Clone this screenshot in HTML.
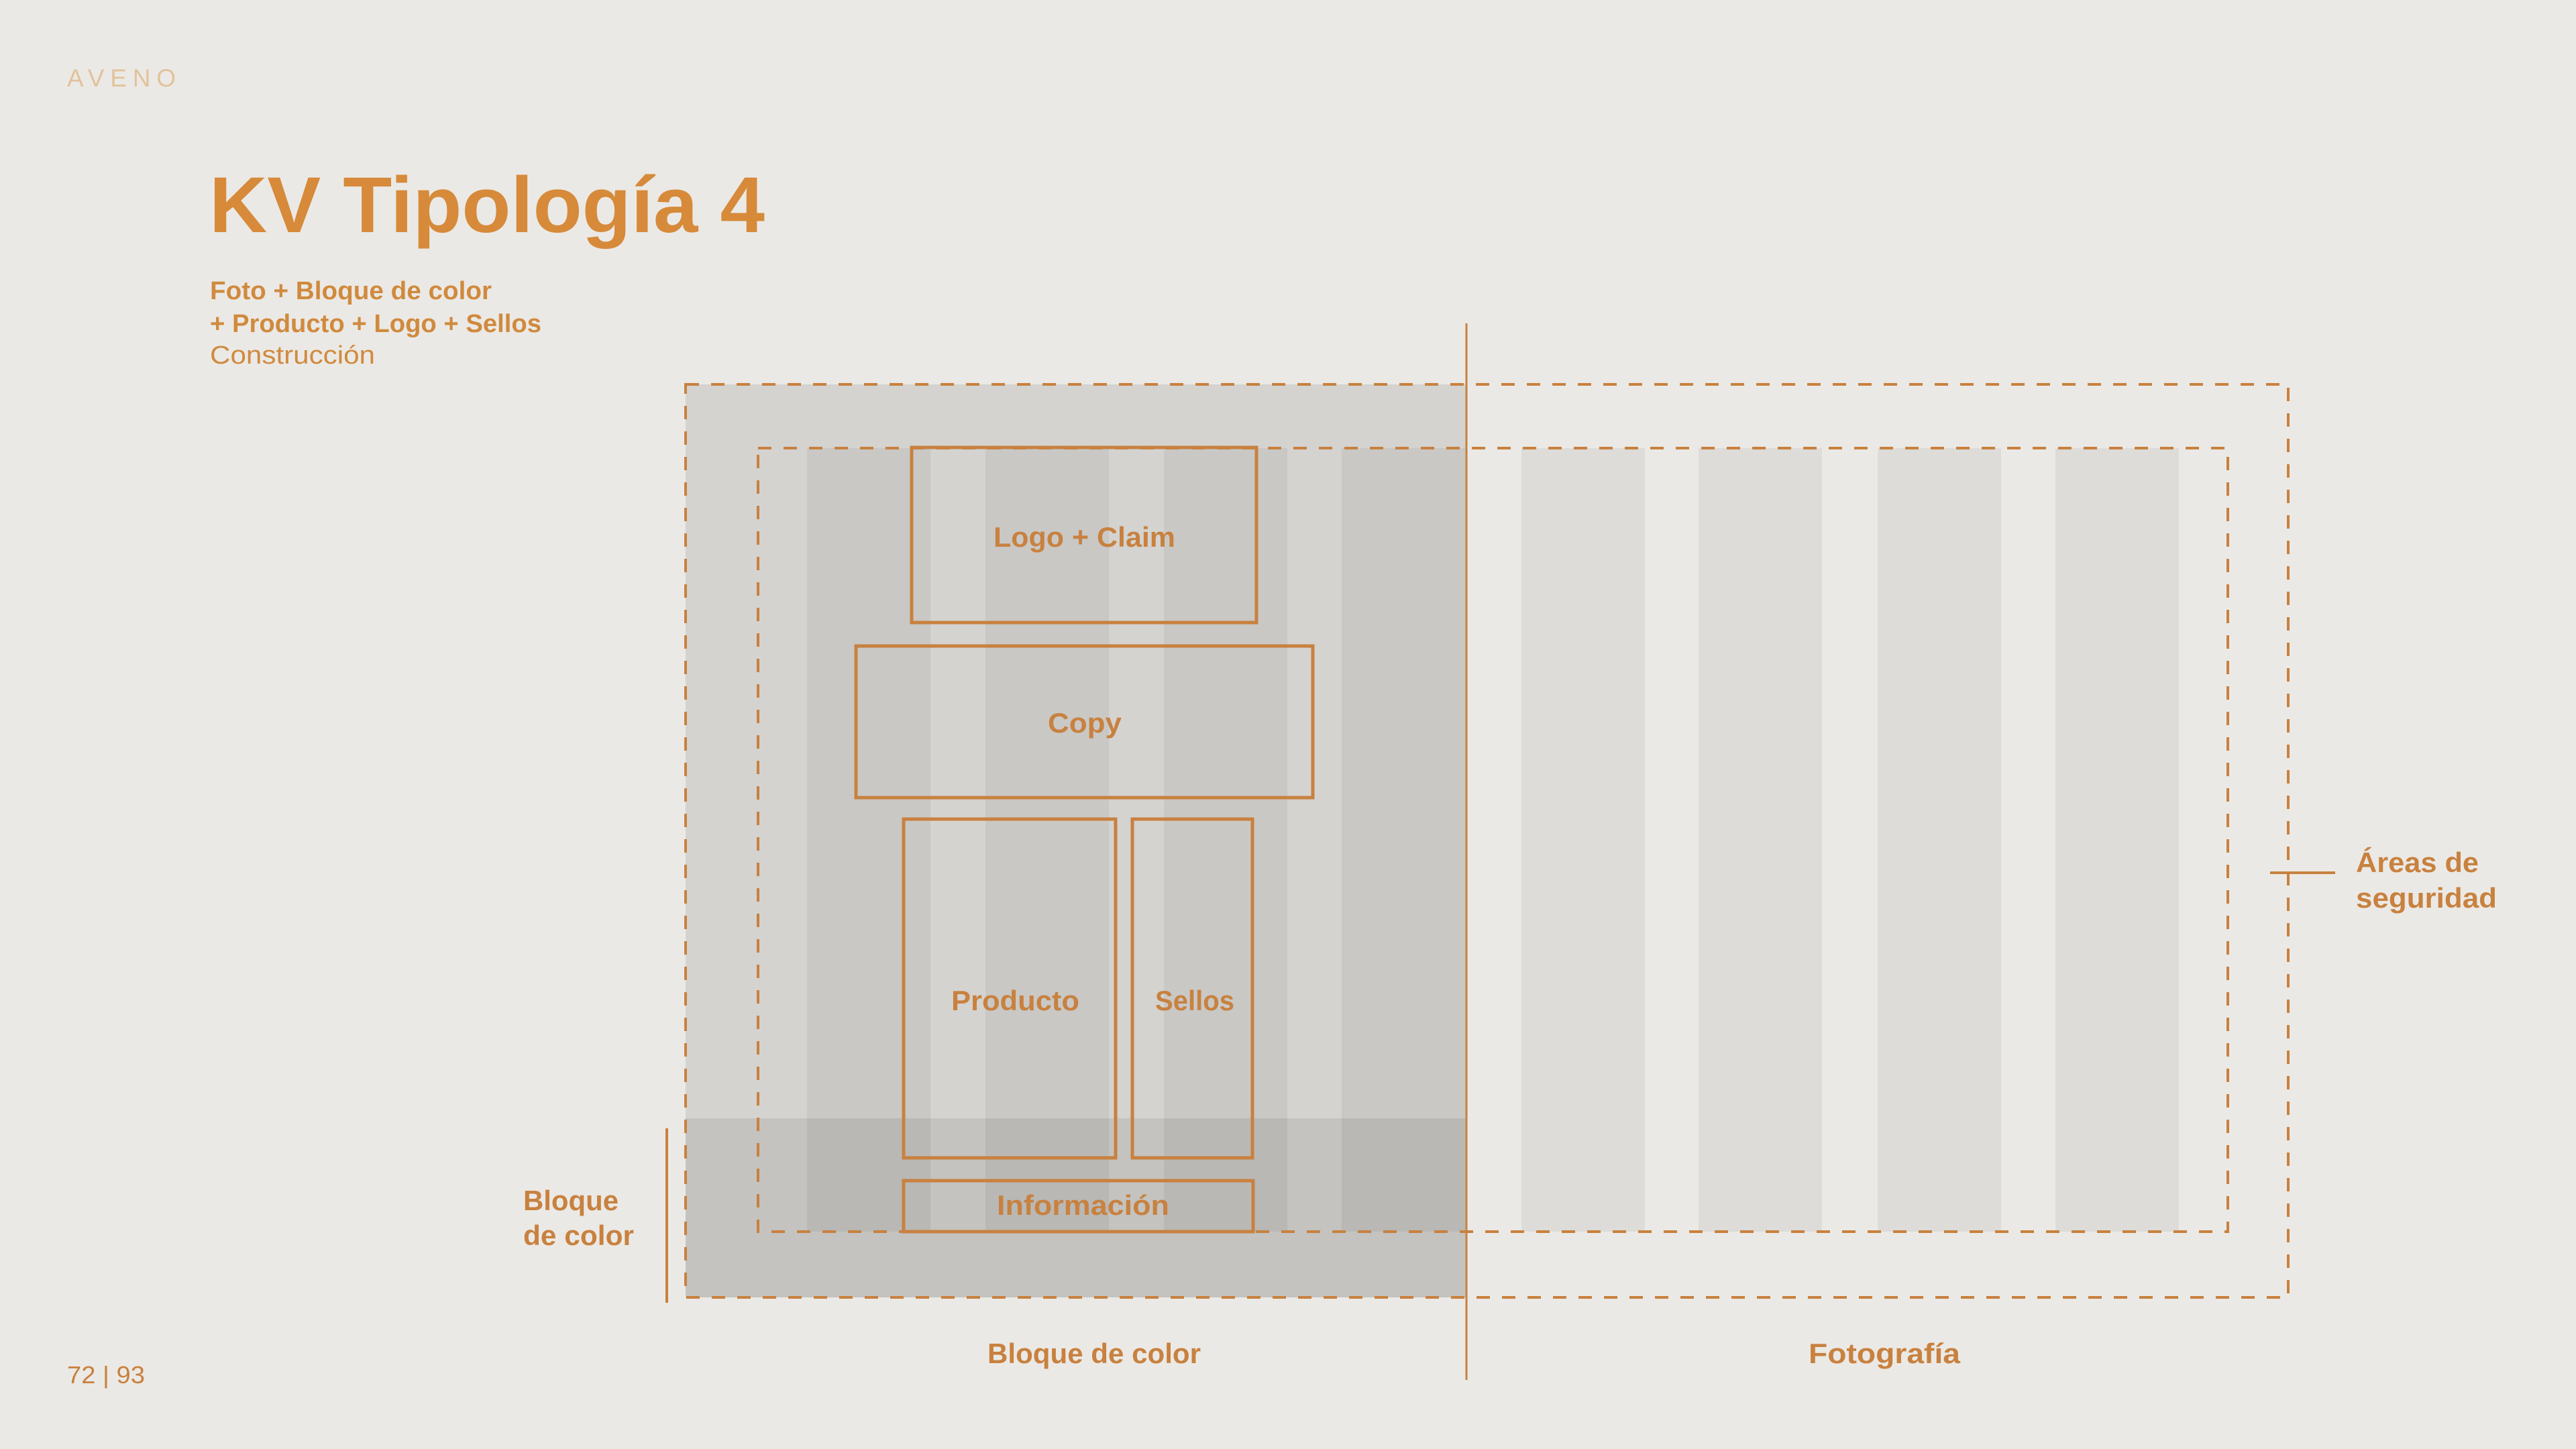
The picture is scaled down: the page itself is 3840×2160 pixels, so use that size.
<!DOCTYPE html>
<html><head><meta charset="utf-8"><style>
html,body{margin:0;padding:0;background:#ebe9e5;}
svg{display:block;}
text{font-family:"Liberation Sans",sans-serif;}
</style></head><body>
<svg width="3840" height="2160" viewBox="0 0 3840 2160" xmlns="http://www.w3.org/2000/svg">
<rect x="0" y="0" width="3840" height="2160" fill="#ebe9e5"/>
<g fill="#dddcd8">
<rect x="2268" y="668" width="184" height="1168"/>
<rect x="2532" y="668" width="184" height="1168"/>
<rect x="2799" y="668" width="184" height="1168"/>
<rect x="3064" y="668" width="184" height="1168"/>
</g>
<rect x="1022" y="573" width="1164" height="1094" fill="#d4d3d0"/>
<rect x="1022" y="1667" width="1164" height="267" fill="#c4c3c0"/>
<g fill="#c9c8c5">
<rect x="1203" y="668" width="184" height="999"/>
<rect x="1469" y="668" width="184" height="999"/>
<rect x="1735" y="668" width="184" height="999"/>
<rect x="2000" y="668" width="186" height="999"/>
</g>
<g fill="#b9b8b5">
<rect x="1203" y="1667" width="184" height="169"/>
<rect x="1469" y="1667" width="184" height="169"/>
<rect x="1735" y="1667" width="184" height="169"/>
<rect x="2000" y="1667" width="186" height="169"/>
</g>
<g fill="none" stroke="#c8813f" stroke-width="4" stroke-dasharray="20 18">
<rect x="1022" y="573" width="2389" height="1361"/>
<rect x="1130" y="668" width="2191" height="1168"/>
</g>
<line x1="2186" y1="482" x2="2186" y2="2057" stroke="#c8813f" stroke-width="3"/>
<g fill="none" stroke="#c8813f" stroke-width="5">
<rect x="1359" y="667" width="514" height="261"/>
<rect x="1276" y="963" width="681" height="226"/>
<rect x="1347" y="1221" width="316" height="505"/>
<rect x="1688" y="1221" width="179" height="505"/>
<rect x="1347" y="1760" width="521" height="76"/>
</g>
<line x1="994" y1="1682" x2="994" y2="1942" stroke="#c8813f" stroke-width="4"/>
<line x1="3384" y1="1301" x2="3481" y2="1301" stroke="#c8813f" stroke-width="4"/>
<text x="100" y="129" font-size="37" fill="#e2c29c" textLength="162" lengthAdjust="spacing">AVENO</text>
<text x="312" y="346" font-size="118" font-weight="bold" fill="#d68a3a" textLength="828" lengthAdjust="spacingAndGlyphs">KV Tipología 4</text>
<text x="313" y="446" font-size="38" font-weight="bold" fill="#d08a3e" textLength="420" lengthAdjust="spacingAndGlyphs">Foto + Bloque de color</text>
<text x="313" y="495" font-size="38" font-weight="bold" fill="#d08a3e" textLength="494" lengthAdjust="spacingAndGlyphs">+ Producto + Logo + Sellos</text>
<text x="313" y="542" font-size="38" fill="#d08a3e" textLength="246" lengthAdjust="spacingAndGlyphs">Construcción</text>
<g font-size="42" font-weight="bold" fill="#c8813f">
<text x="1481" y="815" textLength="271" lengthAdjust="spacingAndGlyphs">Logo + Claim</text>
<text x="1562" y="1092" textLength="110" lengthAdjust="spacingAndGlyphs">Copy</text>
<text x="1418" y="1506" textLength="191" lengthAdjust="spacingAndGlyphs">Producto</text>
<text x="1722" y="1506" textLength="118" lengthAdjust="spacingAndGlyphs">Sellos</text>
<text x="1486" y="1811" textLength="257" lengthAdjust="spacingAndGlyphs">Información</text>
<text x="1472" y="2032" textLength="318" lengthAdjust="spacingAndGlyphs">Bloque de color</text>
<text x="2696" y="2032" textLength="226" lengthAdjust="spacingAndGlyphs">Fotografía</text>
<text x="780" y="1804" textLength="142" lengthAdjust="spacingAndGlyphs">Bloque</text>
<text x="780" y="1856" textLength="165" lengthAdjust="spacingAndGlyphs">de color</text>
<text x="3512" y="1300" textLength="183" lengthAdjust="spacingAndGlyphs">Áreas de</text>
<text x="3512" y="1353" textLength="210" lengthAdjust="spacingAndGlyphs">seguridad</text>
</g>
<text x="100" y="2062" font-size="36" fill="#c8813f" textLength="116" lengthAdjust="spacingAndGlyphs">72 | 93</text>
</svg>
</body></html>
